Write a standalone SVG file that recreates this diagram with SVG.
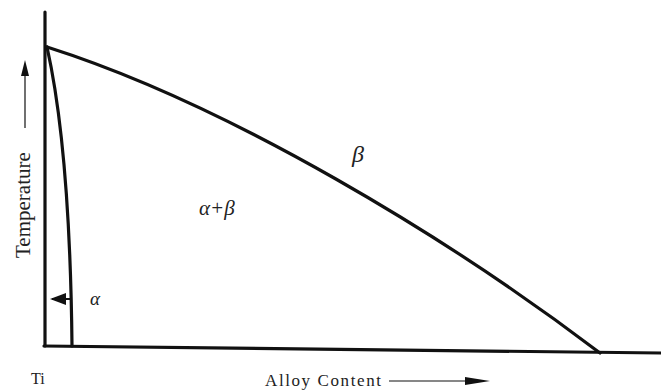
<svg xmlns="http://www.w3.org/2000/svg" width="661" height="392" viewBox="0 0 661 392">
<style>
.ln{fill:none;stroke:#111;stroke-width:3.2;stroke-linecap:round}
.t{font-family:"Liberation Serif",serif;fill:#222}
.it{font-family:"Liberation Serif",serif;font-style:italic;fill:#222}
</style>
<rect width="661" height="392" fill="#fff"/>
<g id="axes">
<path class="ln" d="M45,12 L45,346"/>
<path class="ln" d="M44,346 L661,353"/>
</g>
<g id="curves">
<path class="ln" d="M47,47 C230,105 450,239 600,353"/>
<path class="ln" d="M47,47 Q70,150 72,346"/>
</g>
<g id="connectors">
<path d="M70,299 L52,299" stroke="#111" stroke-width="2" fill="none"/>
<path d="M50,299 L66,293 L66,305 z" fill="#111"/>
<path d="M25,128 L25,64" stroke="#111" stroke-width="1.2" fill="none"/>
<path d="M25,60 L21,76 L29,76 z" fill="#111"/>
<path d="M389,381 L465,381" stroke="#111" stroke-width="1.2" fill="none"/>
<path d="M490,381 L465,377 L465,385 z" fill="#111"/>
</g>
<g id="labels">
<text class="t" x="30" y="258" font-size="21" transform="rotate(-90 30 258)">Temperature</text>
<text class="t" x="31" y="384" font-size="16">Ti</text>
<text class="t" x="265" y="386" font-size="17" letter-spacing="1.6">Alloy Content</text>
<text class="it" x="352" y="162" font-size="24">β</text>
<text class="it" x="199" y="215" font-size="21">α+β</text>
<text class="it" x="90" y="305" font-size="19">α</text>
</g>
</svg>
